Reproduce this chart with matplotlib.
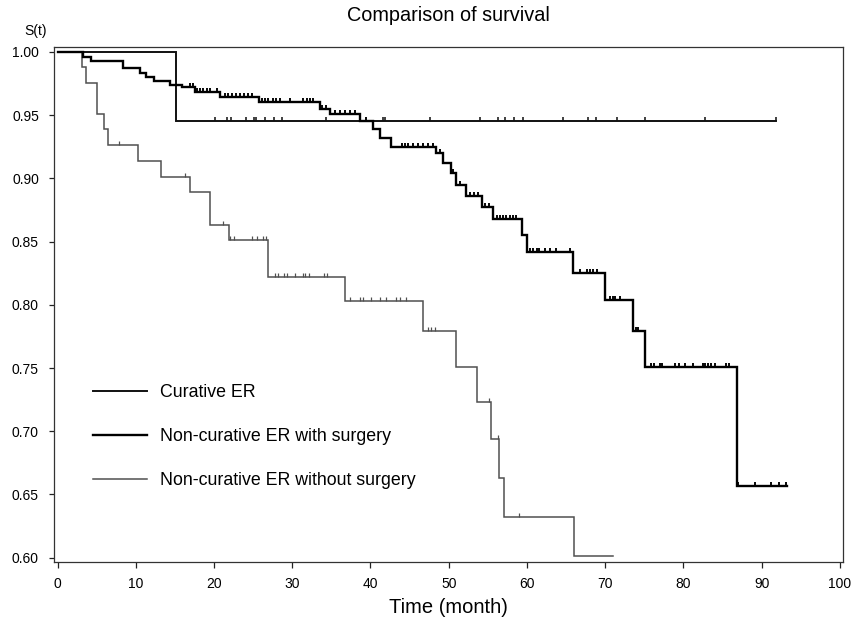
import numpy as np
import matplotlib
matplotlib.use("Agg")
import matplotlib.pyplot as plt
from matplotlib.path import Path

plt.rcParams['font.family'] = ['Liberation Sans', 'DejaVu Sans']

# ---------------- data ----------------
series_names = ["Curative ER", "Non-curative ER with surgery", "Non-curative ER without surgery"]

cur_times = [15.1]
cur_surv = [0.945]
cur_end = 91.8
cur_cens = [20.1, 21.6, 22.2, 24.1, 25.1, 25.4, 26.5, 27.7, 28.7, 34.3, 41.6, 41.9,
            47.6, 54.0, 56.3, 57.2, 58.3, 59.5, 64.6, 67.8, 68.8, 71.5, 75.1, 82.7, 91.8]

sur_times = [3.3, 4.3, 8.35, 10.6, 11.3, 12.35, 14.4, 15.9, 17.6, 20.8, 25.7, 33.5, 34.8,
             38.65, 40.3, 41.2, 42.6, 48.36, 49.3, 50.3, 50.9, 52.2, 54.3, 55.7, 59.4, 60.0,
             65.9, 70.0, 73.6, 75.1, 86.9]
sur_surv = [0.996, 0.993, 0.987, 0.983, 0.980, 0.977, 0.974, 0.972, 0.968, 0.964, 0.960,
            0.955, 0.951, 0.945, 0.939, 0.932, 0.925, 0.920, 0.912, 0.904, 0.895, 0.886,
            0.877, 0.868, 0.855, 0.842, 0.825, 0.804, 0.779, 0.751, 0.657]
sur_end = 93.2
sur_cens = [16.9, 17.3, 17.8, 18.2, 18.6, 19.1, 19.5, 20.4, 21.4, 21.8, 22.3, 22.8, 23.3,
            23.8, 24.4, 24.9, 26.1, 26.5, 26.9, 27.5, 27.9, 28.4, 29.7, 31.4, 31.9, 32.3,
            32.7, 33.8, 34.3, 35.5, 36.1, 36.7, 37.4, 38.0, 39.4, 44.0, 44.4, 44.8, 45.4,
            46.1, 46.7, 47.3, 48.0, 48.9, 50.5, 51.4, 52.7, 53.2, 53.7, 54.7, 55.1, 56.2,
            56.5, 56.9, 57.3, 57.8, 58.2, 58.6, 60.4, 60.8, 61.3, 61.6, 62.3, 62.9, 63.7,
            65.5, 66.8, 67.7, 68.0, 68.4, 68.9, 70.6, 71.0, 71.3, 71.9, 73.9, 74.2, 75.9,
            76.3, 77.0, 77.3, 78.9, 79.5, 80.2, 81.2, 82.5, 82.7, 83.1, 83.5, 84.0, 85.5,
            85.8, 87.0, 89.1, 91.2, 92.2, 93.1]

wo_times = [3.1, 3.7, 5.0, 6.0, 6.5, 10.3, 13.25, 16.95, 19.5, 21.9, 26.95, 36.8, 46.7,
            50.9, 53.6, 55.35, 56.4, 57.05, 66.0]
wo_surv = [0.988, 0.975, 0.951, 0.939, 0.926, 0.914, 0.901, 0.889, 0.863, 0.851, 0.822,
           0.803, 0.779, 0.751, 0.723, 0.694, 0.663, 0.632, 0.601]
wo_end = 71.0
wo_cens = [7.9, 16.3, 21.2, 22.1, 22.6, 24.8, 25.5, 26.3, 26.6, 27.8, 28.2, 28.9, 29.3,
           30.4, 31.4, 31.6, 32.1, 34.1, 34.4, 37.4, 38.6, 39.0, 40.1, 41.2, 41.95, 43.25,
           43.75, 44.5, 47.3, 47.8, 48.2, 55.1, 56.3, 58.95]

x_ticks = [0, 10, 20, 30, 40, 50, 60, 70, 80, 90, 100]
y_ticks = [0.60, 0.65, 0.70, 0.75, 0.80, 0.85, 0.90, 0.95, 1.00]

# ---------------- figure ----------------
fig = plt.figure(figsize=(8.54, 6.17), dpi=100)
ax = fig.add_axes([54/854, 1-562.3/617, (843-54)/854, (562.3-46.7)/617])

cens_marker = Path([(0, 0), (0, 1)], [Path.MOVETO, Path.LINETO])


def km(ax, times, surv, end, cens, color, lw, label):
    t = np.concatenate([[0.0], times, [end]])
    s = np.concatenate([[1.0], surv, [surv[-1]]])
    ax.step(t, s, where='post', color=color, lw=lw, label=label, solid_joinstyle='miter')
    c = np.asarray(cens)
    idx = np.searchsorted(np.asarray(times), c, side='right')
    sc = np.concatenate([[1.0], surv])[idx]
    ax.plot(c, sc, linestyle='none', marker=cens_marker, markersize=5.5,
            markeredgewidth=lw * 0.8, color=color)


km(ax, wo_times, wo_surv, wo_end, wo_cens, '#505050', 1.1, series_names[2])
km(ax, cur_times, cur_surv, cur_end, cur_cens, '#111111', 1.4, series_names[0])
km(ax, sur_times, sur_surv, sur_end, sur_cens, '#000000', 1.7, series_names[1])

ax.set_xlim(-0.45, 100.4)
ax.set_ylim(0.5964, 1.004)
ax.set_xticks(x_ticks)
ax.set_xticklabels([str(v) for v in x_ticks])
ax.set_yticks(y_ticks)
ax.set_yticklabels([f"{v:.2f}" for v in y_ticks])
ax.tick_params(axis='x', length=4.3, width=0.9, pad=6, labelsize=10, color='#222222')
ax.tick_params(axis='y', length=3.6, width=0.9, pad=7.2, labelsize=10, color='#222222')
for sp in ax.spines.values():
    sp.set_linewidth(0.9)
    sp.set_color('#333333')

ax.set_title("Comparison of survival", fontsize=14.3, pad=18.5)
ax.set_xlabel("Time (month)", fontsize=14.5, labelpad=5)
fig.text(36/854, 1-31/617, "S(t)", fontsize=10, ha='center', va='center')

handles, labels = ax.get_legend_handles_labels()
order = [labels.index(n) for n in series_names]
leg = ax.legend([handles[i] for i in order], [labels[i] for i in order],
                loc='upper left', bbox_to_anchor=(0.0498, 0.345), frameon=False,
                borderpad=0, borderaxespad=0, handlelength=3.0, handletextpad=0.75,
                labelspacing=1.5, fontsize=12.8)

fig.savefig("out.png", dpi=100)
